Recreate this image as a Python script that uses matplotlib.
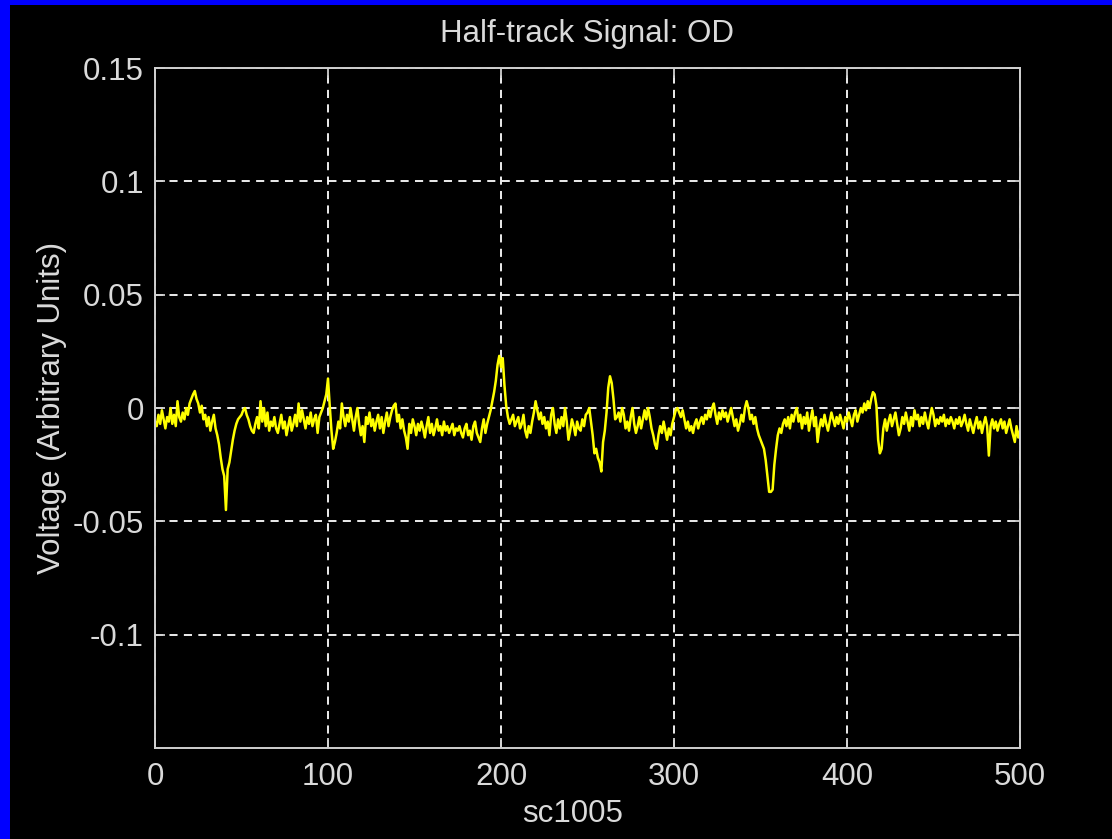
import numpy as np
import matplotlib
matplotlib.use('Agg')
import matplotlib.pyplot as plt
from matplotlib.patches import Rectangle

plt.rcParams['font.family'] = ['Liberation Sans', 'DejaVu Sans']

# signal, one value per sample
sig_000 = [-0.006, -0.008, -0.003, -0.007, -0.001, -0.005, -0.009, -0.004, -0.006, 0.000,
           -0.007, -0.003, -0.008, 0.003, -0.004, -0.006, -0.002, -0.005, 0.000, -0.003,
           0.002, 0.004, 0.006, 0.0075, 0.004, 0.002, -0.002, 0.001, -0.005, -0.003,
           -0.008, -0.004, -0.010, -0.006, -0.003, -0.009, -0.012, -0.016, -0.022, -0.027,
           -0.030, -0.045, -0.027, -0.024, -0.019, -0.014, -0.010, -0.007, -0.005, -0.004]
sig_050 = [-0.003, -0.001, 0.000, -0.003, -0.005, -0.008, -0.010, -0.011, -0.007, -0.004,
           -0.009, 0.003, -0.006, 0.000, -0.008, -0.002, -0.010, -0.006, -0.008, -0.004,
           -0.009, -0.011, -0.007, -0.003, -0.009, -0.006, -0.012, -0.008, -0.004, -0.010,
           -0.007, -0.003, -0.008, 0.002, -0.006, -0.001, -0.005, -0.009, -0.004, -0.007,
           -0.002, -0.008, -0.005, -0.003, -0.011, -0.004, -0.002, 0.000, 0.003, 0.006]
sig_100 = [0.013, 0.001, -0.010, -0.018, -0.015, -0.011, -0.006, -0.009, 0.002, -0.004,
           -0.008, -0.003, -0.006, 0.000, -0.005, -0.010, -0.004, 0.000, -0.007, -0.012,
           -0.008, -0.015, -0.004, -0.007, -0.002, -0.008, -0.005, -0.010, -0.006, -0.003,
           -0.009, -0.004, -0.011, -0.006, -0.002, -0.008, -0.004, -0.001, 0.001, 0.002,
           -0.006, -0.003, -0.009, -0.005, -0.010, -0.013, -0.018, -0.007, -0.011, -0.005]
sig_150 = [-0.008, -0.012, -0.007, -0.010, -0.006, -0.009, -0.013, -0.008, -0.004, -0.011,
           -0.007, -0.012, -0.009, -0.005, -0.010, -0.008, -0.012, -0.006, -0.010, -0.008,
           -0.011, -0.009, -0.007, -0.012, -0.009, -0.010, -0.008, -0.011, -0.013, -0.009,
           -0.007, -0.012, -0.010, -0.014, -0.008, -0.006, -0.011, -0.013, -0.015, -0.009,
           -0.005, -0.011, -0.007, -0.004, -0.001, 0.003, 0.007, 0.012, 0.019, 0.023]
sig_200 = [0.018, 0.022, 0.010, 0.001, -0.004, -0.007, -0.005, -0.003, -0.008, -0.006,
           -0.004, -0.009, -0.007, -0.003, -0.010, -0.013, -0.008, -0.011, -0.006, -0.002,
           0.003, -0.001, -0.005, -0.002, -0.007, -0.004, -0.009, -0.006, -0.012, -0.003,
           0.000, -0.007, -0.011, -0.005, -0.009, -0.004, -0.008, 0.000, -0.006, -0.014,
           -0.010, -0.005, -0.008, -0.012, -0.006, -0.009, -0.010, -0.005, -0.008, -0.003]
sig_250 = [-0.002, 0.000, -0.006, -0.012, -0.020, -0.018, -0.022, -0.024, -0.028, -0.015,
           -0.010, -0.002, 0.009, 0.014, 0.011, 0.004, -0.005, -0.004, -0.002, -0.006,
           0.000, -0.003, -0.009, -0.006, -0.010, -0.004, 0.000, -0.007, -0.011, -0.008,
           -0.004, -0.009, -0.005, -0.001, -0.005, 0.000, -0.004, -0.009, -0.012, -0.016,
           -0.018, -0.012, -0.008, -0.011, -0.006, -0.010, -0.014, -0.009, -0.012, -0.007]
sig_300 = [-0.004, -0.001, 0.000, -0.002, -0.004, -0.001, -0.005, -0.009, -0.006, -0.010,
           -0.008, -0.011, -0.007, -0.005, -0.009, -0.006, -0.004, -0.007, -0.003, -0.005,
           -0.001, -0.004, 0.000, 0.002, -0.003, -0.007, -0.002, -0.005, -0.001, -0.004,
           -0.002, -0.006, -0.003, 0.000, -0.004, -0.008, -0.005, -0.010, -0.007, -0.003,
           -0.006, 0.000, 0.003, 0.000, -0.005, -0.003, -0.007, -0.004, -0.009, -0.012]
sig_350 = [-0.014, -0.016, -0.018, -0.023, -0.030, -0.037, -0.037, -0.036, -0.025, -0.018,
           -0.012, -0.009, -0.011, -0.007, -0.005, -0.008, -0.004, -0.009, -0.003, -0.006,
           -0.002, 0.000, -0.006, -0.003, -0.009, -0.004, -0.007, -0.002, -0.010, -0.005,
           -0.001, -0.008, -0.004, -0.015, -0.009, -0.005, -0.008, -0.003, -0.007, -0.010,
           -0.006, -0.002, -0.005, -0.008, -0.004, -0.007, -0.003, -0.006, -0.009, -0.004]
sig_400 = [-0.006, -0.002, -0.005, -0.008, -0.003, -0.001, -0.006, -0.003, 0.000, -0.002,
           0.002, -0.001, 0.003, 0.000, 0.004, 0.007, 0.006, 0.001, -0.014, -0.020,
           -0.018, -0.009, -0.005, -0.010, -0.006, -0.003, -0.008, -0.005, -0.002, -0.007,
           -0.012, -0.009, -0.004, -0.007, -0.002, -0.006, -0.010, -0.004, -0.008, -0.001,
           -0.005, -0.003, -0.008, -0.004, -0.007, -0.002, -0.006, -0.009, -0.004, 0.000]
sig_450 = [-0.003, -0.008, -0.005, -0.007, -0.004, -0.006, -0.003, -0.008, -0.005, -0.007,
           -0.004, -0.006, -0.009, -0.005, -0.007, -0.004, -0.008, -0.006, -0.003, -0.007,
           -0.010, -0.005, -0.008, -0.011, -0.007, -0.004, -0.009, -0.006, -0.011, -0.007,
           -0.004, -0.008, -0.021, -0.008, -0.005, -0.009, -0.006, -0.010, -0.007, -0.005,
           -0.009, -0.006, -0.011, -0.008, -0.005, -0.009, -0.012, -0.015, -0.008, -0.013,
           -0.010]

signal = sig_000 + sig_050 + sig_100 + sig_150 + sig_200 + sig_250 + sig_300 + sig_350 + sig_400 + sig_450

x_ticks = [0, 100, 200, 300, 400, 500]
y_ticks = [-0.1, -0.05, 0, 0.05, 0.1, 0.15]
y_tick_labels = ['-0.1', '-0.05', '0', '0.05', '0.1', '0.15']

TXT = '#dadada'
FS = 22.5

fig = plt.figure(figsize=(11.12, 8.39), dpi=100, facecolor='black')
ax = fig.add_axes([155 / 1112, 1 - 748 / 839, 865 / 1112, 680 / 839])
ax.set_facecolor('black')

ax.plot(np.arange(len(signal)), signal, color='#ffff00', linewidth=1.8)

ax.set_xlim(0, 500)
ax.set_ylim(-0.15, 0.15)
ax.set_xticks(x_ticks)
ax.set_yticks(y_ticks)
ax.set_yticklabels(y_tick_labels)

ax.grid(True, color='white', linestyle=(0, (4.5, 3.5)), linewidth=1.3)
for sp in ax.spines.values():
    sp.set_color('#d0d0d0')
    sp.set_linewidth(1.4)

ax.tick_params(direction='in', length=7, width=1.3, color='#d0d0d0',
               top=True, right=True, labelsize=FS, labelcolor=TXT)
ax.tick_params(axis='x', pad=10)
ax.tick_params(axis='y', pad=8)

ax.set_title('Half-track Signal: OD', color=TXT, fontsize=FS, pad=19)
ax.set_xlabel('sc1005', color=TXT, fontsize=FS)
ax.xaxis.set_label_coords(0.4827, -0.075)
ax.set_ylabel('Voltage (Arbitrary Units)', color=TXT, fontsize=FS, labelpad=4)

# blue window frame on the top and left edges
fig.patches.append(Rectangle((0, 1 - 5 / 839), 1, 5 / 839, transform=fig.transFigure,
                             facecolor='#0000ff', edgecolor='none'))
fig.patches.append(Rectangle((0, 0), 10 / 1112, 1, transform=fig.transFigure,
                             facecolor='#0000ff', edgecolor='none'))

fig.savefig('out.png', dpi=100, facecolor='black')
